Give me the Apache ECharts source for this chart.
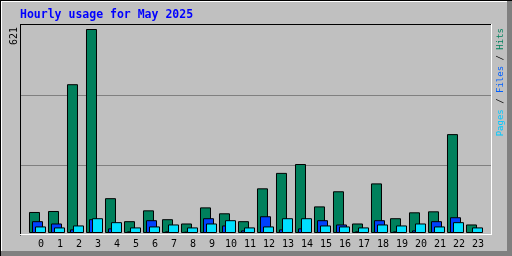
<!DOCTYPE html>
<html><head><meta charset="utf-8">
<script src="https://cdn.jsdelivr.net/npm/echarts@6/dist/echarts.min.js"></script>
<style>html,body{margin:0;padding:0;background:#c0c0c0;}#c{width:512px;height:256px;}</style>
</head><body><div id="c"></div>
<script>
var hours = ['0','1','2','3','4','5','6','7','8','9','10','11','12','13','14','15','16','17','18','19','20','21','22','23'];
var hits  = [64,67,453,621,106,36,69,42,29,78,60,36,136,183,210,81,127,29,151,45,63,66,301,26];
var files = [36,29,11,42,14,5,39,5,4,45,23,8,51,11,14,39,26,5,39,5,8,36,48,3];
var pages = [20,17,23,45,33,17,20,26,17,29,39,17,20,45,45,23,20,17,26,23,29,20,33,17];
var title = 'Hourly usage for May 2025';
var maxLabel = String(Math.max.apply(null, hits));

var chart = echarts.init(document.getElementById('c'), null, {renderer:'canvas'});
function line(x1,y1,x2,y2,c){return {type:'line',silent:true,z:-1,shape:{x1:x1,y1:y1,x2:x2,y2:y2},style:{stroke:c,lineWidth:1}};}
var graphics = [
  {type:'rect',silent:true,z:-2,shape:{x:0,y:0,width:512,height:256},style:{fill:'#c0c0c0'}},
  {type:'rect',silent:true,z:-2,shape:{x:507,y:0,width:5,height:256},style:{fill:'#808080'}},
  {type:'rect',silent:true,z:-2,shape:{x:0,y:251,width:512,height:5},style:{fill:'#808080'}},
  line(0,0.5,512,0.5,'#000'), line(0.5,0,0.5,256,'#000'),
  line(1,1.5,507,1.5,'#fff'), line(1.5,1,1.5,251,'#fff'),
  line(21,95.5,491,95.5,'#808080'), line(21,165.5,491,165.5,'#808080'),
  line(20,24.5,491.5,24.5,'#000'), line(20.5,24,20.5,235.5,'#000'),
  line(20,234.5,492,234.5,'#fff'), line(491.5,24,491.5,235,'#fff'),
  {type:'text',silent:true,x:20,y:15,style:{text:title,fill:'#0000ff',font:'bold 11.5px "DejaVu Sans Mono"',textAlign:'left',textVerticalAlign:'middle'}},
  {type:'text',silent:true,x:14,y:27,rotation:Math.PI/2,style:{text:maxLabel,fill:'#000',font:'10px "DejaVu Sans Mono"',textAlign:'right',textVerticalAlign:'middle'}},
  {type:'text',silent:true,x:501,y:28,rotation:Math.PI/2,style:{
    text:'{p|Pages} {s|/} {f|Files} {s|/} {h|Hits}',
    font:'9px "DejaVu Sans Mono"',textAlign:'right',textVerticalAlign:'middle',
    rich:{p:{fill:'#00c8ff',font:'9px "DejaVu Sans Mono"'},f:{fill:'#0060ff',font:'9px "DejaVu Sans Mono"'},h:{fill:'#00805c',font:'9px "DejaVu Sans Mono"'},s:{fill:'#000',font:'9px "DejaVu Sans Mono"'}}}}
];
var barBase = {type:'bar',barWidth:11,barGap:'-72.7%',animation:false,itemStyle:{borderColor:'#000',borderWidth:1}};
chart.setOption({
  animation:false,
  backgroundColor:'#c0c0c0',
  grid:{left:28,width:456,top:29,bottom:23,containLabel:false},
  xAxis:{type:'category',data:hours,boundaryGap:true,axisLine:{show:false},axisTick:{show:false},
    axisLabel:{color:'#000',fontFamily:'DejaVu Sans Mono',fontSize:10,margin:6,padding:[0,0,0,7],interval:0}},
  yAxis:{type:'value',min:0,max:Math.max.apply(null,hits),show:false,splitLine:{show:false}},
  graphic:graphics,
  series:[
    Object.assign({},barBase,{name:'Hits',data:hits,itemStyle:{color:'#00805c',borderColor:'#000',borderWidth:1}}),
    Object.assign({},barBase,{name:'Files',data:files,itemStyle:{color:'#0040ff',borderColor:'#000',borderWidth:1}}),
    Object.assign({},barBase,{name:'Pages',data:pages,itemStyle:{color:'#00e0ff',borderColor:'#000',borderWidth:1}})
  ]
});
</script></body></html>
